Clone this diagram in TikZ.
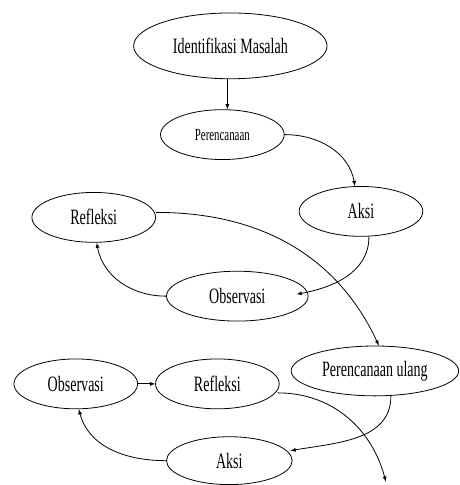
\documentclass[tikz,border=0pt]{standalone}
\usepackage{fontspec}
\setmainfont{Liberation Serif}[FakeStretch=0.64]
\usepackage{tikz}
\usetikzlibrary{arrows}
\usetikzlibrary{positioning}
\usetikzlibrary{shapes.geometric}

\begin{document}
\begin{tikzpicture}[
    >=latex, on grid, line width=0.8pt,
    tahap/.style={draw, ellipse, inner sep=0pt, minimum width=124pt,
      minimum height=50pt, font=\fontsize{22}{26}\selectfont},
  ]
        \node [tahap, minimum width=194pt, minimum height=66pt] (idm) {Identifikasi Masalah};
        \node [tahap, below left = 89pt and 8pt of idm, font=\fontsize{17}{20}\selectfont] (per) {Perencanaan};
        \node [tahap, below right = 77pt and 139pt of per] (aksi1) {Aksi};
        \node [tahap, below left = 83pt and 129pt of per] (ref1) {Refleksi};
        \node [tahap, below right = 79pt and 144pt of ref1, minimum width=142pt] (obs1) {Observasi};

        \node [tahap, below right = 75pt and 138pt of obs1, minimum width=168pt] (peru) {Perencanaan ulang};
        \node [tahap, below left = 13pt and 158pt of peru] (ref2) {Refleksi};
        \node [tahap, left = 142pt of ref2] (obs2) {Observasi};
        \node [tahap, below right = 77pt and 12pt of ref2, minimum width=126pt, minimum height=48pt] (aksi2) {Aksi};
        \coordinate [below right = 111pt and 11pt of peru] (next);

        \useasboundingbox ([shift={(-231pt,46pt)}]idm.center) rectangle ++(460pt,-485pt);

        \draw [->] ([xshift=-3pt]idm.south) -- ([xshift=5pt]per.north);
        \draw [->] (per.east) to [out=0, in=100] ([xshift=-6pt]aksi1.north);
        \draw [->] ([xshift=8pt]aksi1.south) to [out=-90, in=10] ([shift={(-12pt,2pt)}]obs1.east);
        \draw [->] (obs1.west) to [out=180, in=-80] ([xshift=3pt]ref1.south);
        \draw [->] ([yshift=5pt]ref1.east) to [out=0, in=115] ([xshift=4pt]peru.north);

        \draw [->] (obs2) -- (ref2);
        \draw [->] ([xshift=16pt]peru.south) to [out=-90, in=10] ([shift={(-2pt,10pt)}]aksi2.east);
        \draw [->] (aksi2.west) to [out=180, in=-75] ([xshift=3pt]obs2.south);
        \draw [->] ([shift={(-2pt,-9pt)}]ref2.east) to [out=0, in=105] (next);
    \end{tikzpicture}
\end{document}
